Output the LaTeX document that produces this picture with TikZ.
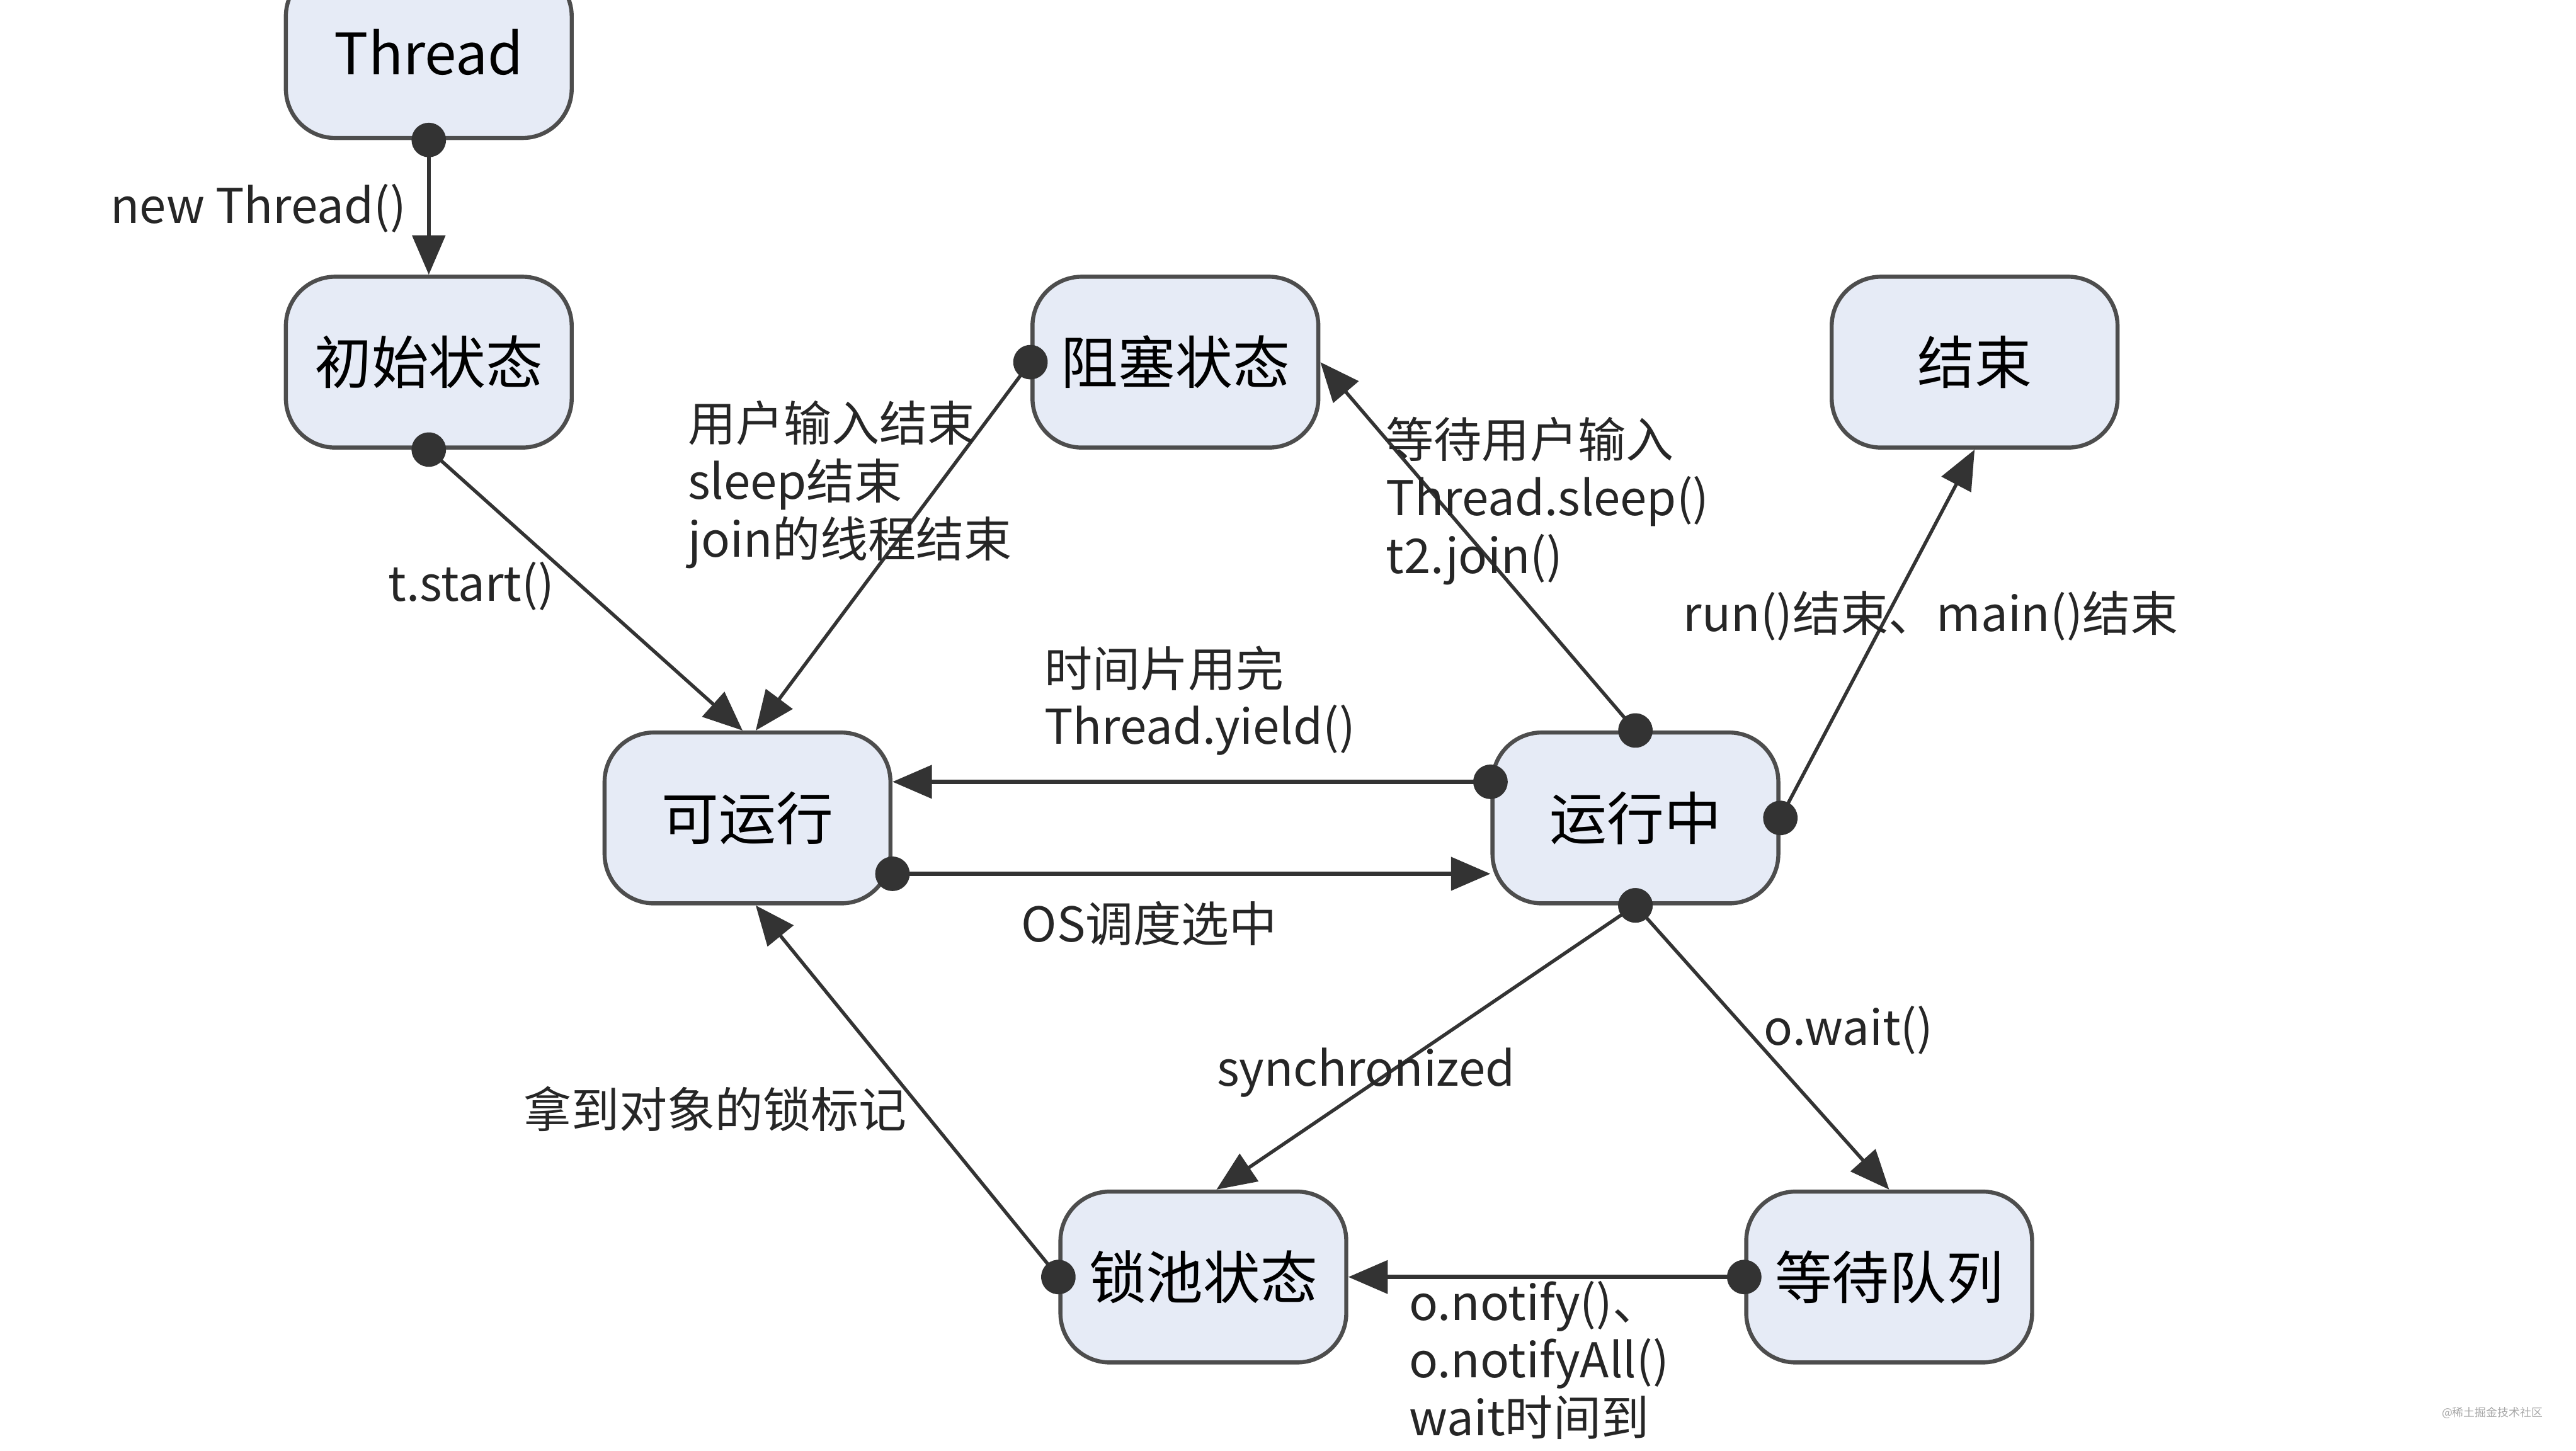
\documentclass[tikz,border=0pt]{standalone}
\usepackage{fontspec}
\setmainfont{Noto Sans CJK SC}
\usetikzlibrary{arrows.meta, positioning}
\definecolor{stfill}{HTML}{E6EBF6}
\definecolor{stline}{HTML}{4D4D4D}
\definecolor{lnclr}{HTML}{333333}
\tikzstyle{state} = [rectangle, rounded corners=0.3cm, minimum width=1.74cm, minimum height=1.04cm, text centered, draw=stline, fill=stfill, line width=0.7pt, font=\fontsize{9.9}{12}\selectfont]
\tikzstyle{arrow} = [line width=0.6pt, draw=lnclr, {Circle[length=0.21cm]}-{Triangle[length=0.24cm,width=0.2cm]}, shorten <=-0.105cm]
\tikzstyle{lbl} = [inner sep=0pt, align=left, text=black!85, font=\fontsize{8.3}{10}\selectfont]

\begin{document}
\begin{tikzpicture}[node distance=1cm]
\useasboundingbox (0,0) rectangle (15.68,8.83);
\node (thread) [state] at (2.61,8.51) {Thread};
\node (init) [state, below=0.82cm of thread] {初始状态};
\node (block) [state, right=2.78cm of init] {阻塞状态};
\node (term) [state, right=3.10cm of block] {结束};
\node (ready) [state, below=1.71cm of init, xshift=1.94cm] {可运行};
\node (run) [state, right=3.64cm of ready] {运行中};
\node (lock) [state, below=1.73cm of run, xshift=-2.63cm] {锁池状态};
\node (waitq) [state, right=2.41cm of lock] {等待队列};

\draw [arrow] (thread.south) -- (init.north);
\draw [arrow] (init.south) -- ([xshift=-0.03cm]ready.north);
\draw [arrow] (block.west) -- ([xshift=0.05cm]ready.north);
\draw [arrow] (run.north) -- (block.east);
\draw [arrow] (run.east) -- (term.south);
\draw [arrow, line width=0.75pt] ([yshift=0.22cm]run.west) -- ([yshift=0.22cm]ready.east);
\draw [arrow, line width=0.75pt] ([yshift=-0.34cm]ready.east) -- ([yshift=-0.34cm]run.west);
\draw [arrow] (run.south) -- ([xshift=0.08cm]lock.north);
\draw [arrow] (run.south) -- (waitq.north);
\draw [arrow, line width=0.75pt] (waitq.west) -- (lock.east);
\draw [arrow] (lock.west) -- ([xshift=0.05cm]ready.south);

% labels
\node (lnew) [lbl, anchor=east] at (2.48,7.56) {new Thread()};
\node (lstart) [lbl, anchor=east] at (3.38,5.26) {t.start()};
\node (lunblock) [lbl, anchor=west] at (4.18,5.88) {用户输入结束\\sleep结束\\join的线程结束};
\node (ltoblock) [lbl, anchor=west] at (8.43,5.78) {等待用户输入\\Thread.sleep()\\t2.join()};
\node (lend) [lbl, anchor=west] at (10.24,5.08) {run()结束、main()结束};
\node (lyield) [lbl, anchor=west] at (6.35,4.565) {时间片用完\\Thread.yield()};
\node (lsched) [lbl, anchor=west] at (6.21,3.21) {OS调度选中};
\node (lsync) [lbl, anchor=west] at (7.40,2.30) {synchronized};
\node (lowait) [lbl, anchor=west] at (10.73,2.56) {o.wait()};
\node (lgetlock) [lbl, anchor=west] at (3.18,2.08) {拿到对象的锁标记};
\node (lnotify) [lbl, anchor=west] at (8.57,0.55) {o.notify()、\\o.notifyAll()\\wait时间到};
\node (mark) [inner sep=0pt, text=gray!70, font=\fontsize{1.95}{2}\selectfont] at (15.17,0.23) {@稀土掘金技术社区};
\end{tikzpicture}
\end{document}
